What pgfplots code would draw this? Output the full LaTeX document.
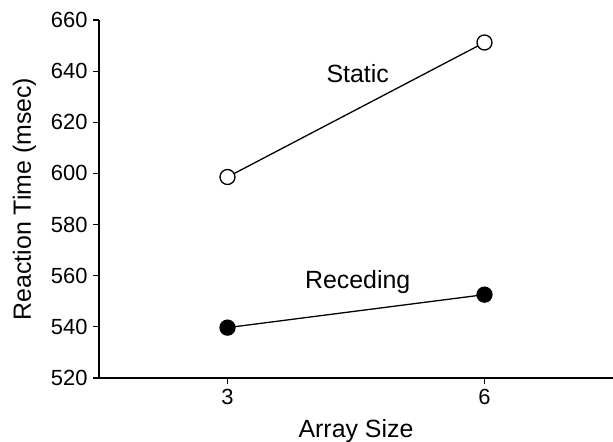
\documentclass[border=0pt]{standalone}
\usepackage{fontspec}
\setmainfont{Liberation Sans}
\usepackage{pgfplots}
\pgfplotsset{compat=1.18}

\begin{document}
\begin{tikzpicture}
  \begin{axis}[
    name=ax,
    scale only axis,
    width=514bp, height=358bp,
    xmin=1.5, xmax=7.5,
    ymin=520, ymax=660,
    xtick={3,6},
    ytick={520,540,...,660},
    axis x line*=bottom,
    axis y line*=left,
    axis line style={line width=1.5bp, -},
    tick style={line width=1.2bp, black},
    tick align=outside,
    major tick length=6bp,
    /pgf/number format/assume math mode=true,
    xticklabel style={font=\fontsize{22}{26}\selectfont, yshift=-2bp},
    yticklabel style={font=\fontsize{22}{26}\selectfont, xshift=-2bp},
    xlabel={Array Size},
    ylabel={Reaction Time (msec)},
    xlabel style={font=\fontsize{25}{29}\selectfont, yshift=-8bp},
    ylabel style={font=\fontsize{25}{29}\selectfont, yshift=8bp},
    clip=false,
  ]
    \addplot[black, line width=1.3bp, mark=*, mark size=7.5bp,
      mark options={fill=white, line width=1.3bp}]
      coordinates {(3,598.6) (6,651.2)};
    \addplot[black, line width=1.3bp, mark=*, mark size=7.5bp,
      mark options={fill=black}]
      coordinates {(3,539.7) (6,552.6)};
    \node[font=\fontsize{25}{29}\selectfont] at (axis cs:4.52,639) {Static};
    \node[font=\fontsize{25}{29}\selectfont] at (axis cs:4.52,557.5) {Receding};
  \end{axis}
  \pgfresetboundingbox
  \useasboundingbox ([xshift=-99bp,yshift=-64bp]ax.south west) rectangle ([yshift=20bp]ax.north east);
\end{tikzpicture}
\end{document}
